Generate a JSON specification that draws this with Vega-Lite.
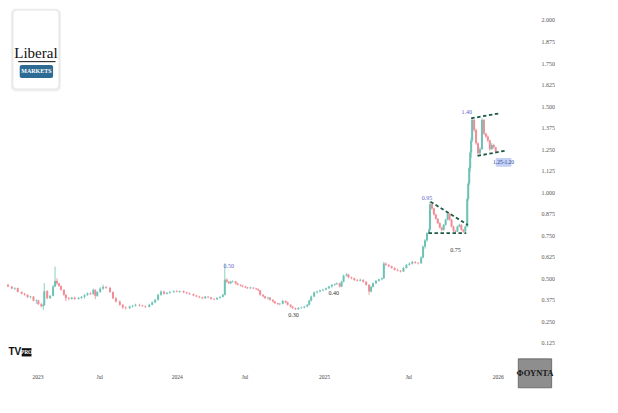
{
"$schema": "https://vega.github.io/schema/vega-lite/v6.json",
"width": 538, "height": 370,
"autosize": {"type": "pad"},
"padding": 0,
"background": "white",
"config": {"view": {"stroke": null}, "axis": {"labelFont": "Liberation Sans Narrow"}},
"resolve": {"axis": {"x": "independent", "y": "independent"}},
"datasets": {
"candles": [
{"b":6,"d":"2022-10-07","o":0.462,"h":0.467,"l":0.448,"c":0.452},
{"b":14,"d":"2022-10-18","o":0.452,"h":0.455,"l":0.436,"c":0.440},
{"b":20,"d":"2022-10-27","o":0.440,"h":0.447,"l":0.432,"c":0.444},
{"b":26,"d":"2022-11-05","o":0.444,"h":0.446,"l":0.418,"c":0.421},
{"b":34,"d":"2022-11-16","o":0.421,"h":0.424,"l":0.406,"c":0.410},
{"b":40,"d":"2022-11-25","o":0.410,"h":0.416,"l":0.398,"c":0.404},
{"b":46,"d":"2022-12-03","o":0.404,"h":0.408,"l":0.386,"c":0.390},
{"b":52,"d":"2022-12-12","o":0.390,"h":0.398,"l":0.383,"c":0.394},
{"b":58,"d":"2022-12-21","o":0.394,"h":0.396,"l":0.366,"c":0.370},
{"b":64,"d":"2022-12-29","o":0.370,"h":0.378,"l":0.352,"c":0.372},
{"b":68,"d":"2023-01-04","o":0.372,"h":0.375,"l":0.345,"c":0.350},
{"b":74,"d":"2023-01-12","o":0.350,"h":0.356,"l":0.330,"c":0.338},
{"b":78,"d":"2023-01-18","o":0.338,"h":0.352,"l":0.317,"c":0.345},
{"b":80,"d":"2023-01-21","o":0.345,"h":0.471,"l":0.340,"c":0.425},
{"b":86,"d":"2023-01-30","o":0.425,"h":0.432,"l":0.378,"c":0.384},
{"b":92,"d":"2023-02-07","o":0.384,"h":0.402,"l":0.380,"c":0.398},
{"b":98,"d":"2023-02-16","o":0.398,"h":0.462,"l":0.395,"c":0.452},
{"b":102,"d":"2023-02-22","o":0.452,"h":0.568,"l":0.448,"c":0.485},
{"b":106,"d":"2023-02-27","o":0.485,"h":0.500,"l":0.462,"c":0.470},
{"b":110,"d":"2023-03-05","o":0.470,"h":0.474,"l":0.450,"c":0.455},
{"b":114,"d":"2023-03-11","o":0.455,"h":0.458,"l":0.428,"c":0.433},
{"b":120,"d":"2023-03-20","o":0.433,"h":0.436,"l":0.398,"c":0.404},
{"b":124,"d":"2023-03-25","o":0.404,"h":0.408,"l":0.366,"c":0.384},
{"b":130,"d":"2023-04-03","o":0.384,"h":0.392,"l":0.372,"c":0.380},
{"b":136,"d":"2023-04-12","o":0.380,"h":0.392,"l":0.376,"c":0.388},
{"b":142,"d":"2023-04-20","o":0.388,"h":0.394,"l":0.374,"c":0.380},
{"b":150,"d":"2023-05-02","o":0.380,"h":0.392,"l":0.376,"c":0.386},
{"b":156,"d":"2023-05-10","o":0.386,"h":0.396,"l":0.380,"c":0.392},
{"b":162,"d":"2023-05-19","o":0.392,"h":0.408,"l":0.382,"c":0.402},
{"b":168,"d":"2023-05-28","o":0.402,"h":0.418,"l":0.398,"c":0.412},
{"b":174,"d":"2023-06-05","o":0.412,"h":0.420,"l":0.402,"c":0.408},
{"b":180,"d":"2023-06-14","o":0.408,"h":0.440,"l":0.404,"c":0.433},
{"b":184,"d":"2023-06-20","o":0.433,"h":0.436,"l":0.378,"c":0.398},
{"b":188,"d":"2023-06-25","o":0.398,"h":0.425,"l":0.392,"c":0.420},
{"b":194,"d":"2023-07-03","o":0.420,"h":0.448,"l":0.415,"c":0.440},
{"b":200,"d":"2023-07-10","o":0.440,"h":0.462,"l":0.432,"c":0.450},
{"b":206,"d":"2023-07-17","o":0.450,"h":0.455,"l":0.438,"c":0.445},
{"b":214,"d":"2023-07-27","o":0.445,"h":0.448,"l":0.415,"c":0.420},
{"b":220,"d":"2023-08-03","o":0.420,"h":0.424,"l":0.378,"c":0.384},
{"b":226,"d":"2023-08-10","o":0.384,"h":0.392,"l":0.358,"c":0.365},
{"b":234,"d":"2023-08-19","o":0.365,"h":0.372,"l":0.340,"c":0.346},
{"b":240,"d":"2023-08-26","o":0.346,"h":0.352,"l":0.322,"c":0.330},
{"b":246,"d":"2023-09-02","o":0.330,"h":0.338,"l":0.318,"c":0.326},
{"b":254,"d":"2023-09-11","o":0.326,"h":0.342,"l":0.322,"c":0.336},
{"b":260,"d":"2023-09-18","o":0.336,"h":0.346,"l":0.330,"c":0.340},
{"b":266,"d":"2023-09-25","o":0.340,"h":0.352,"l":0.336,"c":0.346},
{"b":274,"d":"2023-10-04","o":0.346,"h":0.352,"l":0.336,"c":0.342},
{"b":280,"d":"2023-10-11","o":0.342,"h":0.346,"l":0.334,"c":0.338},
{"b":286,"d":"2023-10-18","o":0.338,"h":0.342,"l":0.328,"c":0.334},
{"b":294,"d":"2023-10-28","o":0.334,"h":0.352,"l":0.330,"c":0.346},
{"b":300,"d":"2023-11-04","o":0.346,"h":0.366,"l":0.342,"c":0.360},
{"b":306,"d":"2023-11-11","o":0.360,"h":0.380,"l":0.355,"c":0.375},
{"b":312,"d":"2023-11-18","o":0.375,"h":0.410,"l":0.370,"c":0.404},
{"b":318,"d":"2023-11-25","o":0.404,"h":0.430,"l":0.398,"c":0.423},
{"b":324,"d":"2023-12-02","o":0.423,"h":0.428,"l":0.405,"c":0.410},
{"b":330,"d":"2023-12-09","o":0.410,"h":0.420,"l":0.406,"c":0.416},
{"b":336,"d":"2023-12-16","o":0.416,"h":0.426,"l":0.410,"c":0.421},
{"b":344,"d":"2023-12-25","o":0.421,"h":0.430,"l":0.414,"c":0.425},
{"b":350,"d":"2024-01-01","o":0.425,"h":0.432,"l":0.418,"c":0.422},
{"b":356,"d":"2024-01-09","o":0.422,"h":0.430,"l":0.416,"c":0.426},
{"b":364,"d":"2024-01-19","o":0.426,"h":0.430,"l":0.414,"c":0.418},
{"b":370,"d":"2024-01-27","o":0.418,"h":0.422,"l":0.408,"c":0.413},
{"b":376,"d":"2024-02-04","o":0.413,"h":0.418,"l":0.404,"c":0.408},
{"b":384,"d":"2024-02-15","o":0.408,"h":0.412,"l":0.396,"c":0.400},
{"b":390,"d":"2024-02-23","o":0.400,"h":0.404,"l":0.390,"c":0.394},
{"b":396,"d":"2024-03-02","o":0.394,"h":0.398,"l":0.384,"c":0.389},
{"b":402,"d":"2024-03-10","o":0.389,"h":0.392,"l":0.378,"c":0.384},
{"b":408,"d":"2024-03-17","o":0.384,"h":0.398,"l":0.380,"c":0.393},
{"b":414,"d":"2024-03-25","o":0.393,"h":0.396,"l":0.384,"c":0.389},
{"b":420,"d":"2024-04-02","o":0.389,"h":0.392,"l":0.376,"c":0.380},
{"b":426,"d":"2024-04-10","o":0.380,"h":0.386,"l":0.372,"c":0.378},
{"b":432,"d":"2024-04-18","o":0.378,"h":0.390,"l":0.374,"c":0.386},
{"b":438,"d":"2024-04-26","o":0.386,"h":0.396,"l":0.382,"c":0.392},
{"b":444,"d":"2024-05-04","o":0.392,"h":0.410,"l":0.388,"c":0.404},
{"b":448,"d":"2024-05-09","o":0.404,"h":0.587,"l":0.400,"c":0.492},
{"b":452,"d":"2024-05-15","o":0.492,"h":0.500,"l":0.474,"c":0.480},
{"b":456,"d":"2024-05-20","o":0.480,"h":0.484,"l":0.466,"c":0.471},
{"b":460,"d":"2024-05-25","o":0.471,"h":0.486,"l":0.468,"c":0.480},
{"b":464,"d":"2024-05-30","o":0.480,"h":0.488,"l":0.474,"c":0.482},
{"b":470,"d":"2024-06-07","o":0.482,"h":0.485,"l":0.464,"c":0.470},
{"b":474,"d":"2024-06-13","o":0.470,"h":0.474,"l":0.458,"c":0.462},
{"b":480,"d":"2024-06-20","o":0.462,"h":0.466,"l":0.452,"c":0.458},
{"b":484,"d":"2024-06-26","o":0.458,"h":0.462,"l":0.447,"c":0.452},
{"b":490,"d":"2024-07-03","o":0.452,"h":0.456,"l":0.442,"c":0.447},
{"b":494,"d":"2024-07-08","o":0.447,"h":0.450,"l":0.438,"c":0.442},
{"b":500,"d":"2024-07-15","o":0.442,"h":0.452,"l":0.438,"c":0.446},
{"b":506,"d":"2024-07-21","o":0.446,"h":0.448,"l":0.436,"c":0.441},
{"b":512,"d":"2024-07-28","o":0.441,"h":0.444,"l":0.432,"c":0.436},
{"b":516,"d":"2024-08-02","o":0.436,"h":0.442,"l":0.426,"c":0.430},
{"b":520,"d":"2024-08-06","o":0.430,"h":0.432,"l":0.398,"c":0.404},
{"b":526,"d":"2024-08-13","o":0.404,"h":0.408,"l":0.390,"c":0.395},
{"b":530,"d":"2024-08-18","o":0.395,"h":0.398,"l":0.380,"c":0.384},
{"b":536,"d":"2024-08-25","o":0.384,"h":0.392,"l":0.376,"c":0.388},
{"b":540,"d":"2024-08-29","o":0.388,"h":0.390,"l":0.370,"c":0.375},
{"b":546,"d":"2024-09-05","o":0.375,"h":0.378,"l":0.360,"c":0.365},
{"b":550,"d":"2024-09-09","o":0.365,"h":0.368,"l":0.350,"c":0.355},
{"b":556,"d":"2024-09-16","o":0.355,"h":0.358,"l":0.344,"c":0.350},
{"b":560,"d":"2024-09-21","o":0.350,"h":0.356,"l":0.342,"c":0.352},
{"b":566,"d":"2024-09-28","o":0.352,"h":0.376,"l":0.348,"c":0.368},
{"b":572,"d":"2024-10-04","o":0.368,"h":0.372,"l":0.355,"c":0.360},
{"b":576,"d":"2024-10-09","o":0.360,"h":0.364,"l":0.342,"c":0.346},
{"b":582,"d":"2024-10-16","o":0.346,"h":0.350,"l":0.330,"c":0.335},
{"b":586,"d":"2024-10-20","o":0.335,"h":0.340,"l":0.322,"c":0.326},
{"b":592,"d":"2024-10-27","o":0.326,"h":0.330,"l":0.316,"c":0.320},
{"b":598,"d":"2024-11-03","o":0.320,"h":0.332,"l":0.318,"c":0.328},
{"b":604,"d":"2024-11-10","o":0.328,"h":0.336,"l":0.322,"c":0.330},
{"b":610,"d":"2024-11-17","o":0.330,"h":0.340,"l":0.326,"c":0.336},
{"b":616,"d":"2024-11-23","o":0.336,"h":0.350,"l":0.332,"c":0.346},
{"b":620,"d":"2024-11-28","o":0.346,"h":0.376,"l":0.342,"c":0.370},
{"b":624,"d":"2024-12-02","o":0.370,"h":0.400,"l":0.366,"c":0.394},
{"b":630,"d":"2024-12-09","o":0.394,"h":0.424,"l":0.390,"c":0.418},
{"b":636,"d":"2024-12-16","o":0.418,"h":0.428,"l":0.412,"c":0.423},
{"b":642,"d":"2024-12-23","o":0.423,"h":0.434,"l":0.418,"c":0.430},
{"b":648,"d":"2024-12-30","o":0.430,"h":0.438,"l":0.424,"c":0.434},
{"b":654,"d":"2025-01-05","o":0.434,"h":0.446,"l":0.430,"c":0.442},
{"b":660,"d":"2025-01-12","o":0.442,"h":0.456,"l":0.438,"c":0.452},
{"b":666,"d":"2025-01-18","o":0.452,"h":0.466,"l":0.446,"c":0.462},
{"b":672,"d":"2025-01-24","o":0.462,"h":0.470,"l":0.456,"c":0.466},
{"b":676,"d":"2025-01-28","o":0.466,"h":0.476,"l":0.462,"c":0.471},
{"b":682,"d":"2025-02-04","o":0.471,"h":0.474,"l":0.446,"c":0.452},
{"b":686,"d":"2025-02-08","o":0.452,"h":0.486,"l":0.448,"c":0.480},
{"b":690,"d":"2025-02-12","o":0.480,"h":0.522,"l":0.476,"c":0.515},
{"b":696,"d":"2025-02-18","o":0.515,"h":0.530,"l":0.510,"c":0.522},
{"b":700,"d":"2025-02-23","o":0.522,"h":0.526,"l":0.500,"c":0.505},
{"b":706,"d":"2025-03-01","o":0.505,"h":0.510,"l":0.494,"c":0.500},
{"b":712,"d":"2025-03-07","o":0.500,"h":0.504,"l":0.484,"c":0.490},
{"b":718,"d":"2025-03-14","o":0.490,"h":0.496,"l":0.480,"c":0.486},
{"b":724,"d":"2025-03-20","o":0.486,"h":0.498,"l":0.482,"c":0.491},
{"b":730,"d":"2025-03-26","o":0.491,"h":0.494,"l":0.474,"c":0.480},
{"b":736,"d":"2025-04-01","o":0.480,"h":0.484,"l":0.456,"c":0.462},
{"b":742,"d":"2025-04-08","o":0.462,"h":0.466,"l":0.404,"c":0.423},
{"b":746,"d":"2025-04-12","o":0.423,"h":0.456,"l":0.418,"c":0.450},
{"b":750,"d":"2025-04-16","o":0.450,"h":0.476,"l":0.446,"c":0.471},
{"b":756,"d":"2025-04-23","o":0.471,"h":0.490,"l":0.466,"c":0.485},
{"b":762,"d":"2025-04-29","o":0.485,"h":0.498,"l":0.480,"c":0.494},
{"b":768,"d":"2025-05-05","o":0.494,"h":0.504,"l":0.488,"c":0.500},
{"b":772,"d":"2025-05-09","o":0.500,"h":0.594,"l":0.496,"c":0.585},
{"b":776,"d":"2025-05-14","o":0.585,"h":0.592,"l":0.572,"c":0.578},
{"b":782,"d":"2025-05-20","o":0.578,"h":0.582,"l":0.564,"c":0.570},
{"b":788,"d":"2025-05-26","o":0.570,"h":0.574,"l":0.555,"c":0.560},
{"b":794,"d":"2025-06-02","o":0.560,"h":0.564,"l":0.544,"c":0.549},
{"b":800,"d":"2025-06-08","o":0.549,"h":0.556,"l":0.540,"c":0.545},
{"b":806,"d":"2025-06-14","o":0.545,"h":0.548,"l":0.534,"c":0.539},
{"b":812,"d":"2025-06-21","o":0.539,"h":0.566,"l":0.536,"c":0.560},
{"b":818,"d":"2025-06-27","o":0.560,"h":0.584,"l":0.556,"c":0.578},
{"b":824,"d":"2025-07-03","o":0.578,"h":0.592,"l":0.574,"c":0.585},
{"b":830,"d":"2025-07-09","o":0.585,"h":0.602,"l":0.580,"c":0.595},
{"b":836,"d":"2025-07-15","o":0.595,"h":0.600,"l":0.584,"c":0.590},
{"b":842,"d":"2025-07-21","o":0.590,"h":0.594,"l":0.580,"c":0.587},
{"b":848,"d":"2025-07-27","o":0.587,"h":0.628,"l":0.584,"c":0.620},
{"b":852,"d":"2025-07-31","o":0.620,"h":0.690,"l":0.616,"c":0.684},
{"b":856,"d":"2025-08-04","o":0.684,"h":0.728,"l":0.672,"c":0.720},
{"b":860,"d":"2025-08-08","o":0.720,"h":0.768,"l":0.712,"c":0.762},
{"b":864,"d":"2025-08-12","o":0.762,"h":0.790,"l":0.755,"c":0.781},
{"b":866,"d":"2025-08-14","o":0.781,"h":0.945,"l":0.776,"c":0.930},
{"b":870,"d":"2025-08-18","o":0.930,"h":0.936,"l":0.898,"c":0.905},
{"b":874,"d":"2025-08-23","o":0.905,"h":0.910,"l":0.864,"c":0.870},
{"b":878,"d":"2025-08-27","o":0.870,"h":0.876,"l":0.840,"c":0.845},
{"b":882,"d":"2025-08-31","o":0.845,"h":0.850,"l":0.815,"c":0.820},
{"b":886,"d":"2025-09-04","o":0.820,"h":0.826,"l":0.790,"c":0.795},
{"b":890,"d":"2025-09-08","o":0.795,"h":0.800,"l":0.772,"c":0.781},
{"b":894,"d":"2025-09-12","o":0.781,"h":0.816,"l":0.776,"c":0.810},
{"b":898,"d":"2025-09-16","o":0.810,"h":0.846,"l":0.805,"c":0.840},
{"b":902,"d":"2025-09-20","o":0.840,"h":0.882,"l":0.836,"c":0.875},
{"b":906,"d":"2025-09-24","o":0.875,"h":0.880,"l":0.834,"c":0.840},
{"b":910,"d":"2025-09-28","o":0.840,"h":0.845,"l":0.795,"c":0.800},
{"b":914,"d":"2025-10-02","o":0.800,"h":0.806,"l":0.768,"c":0.775},
{"b":918,"d":"2025-10-06","o":0.775,"h":0.780,"l":0.764,"c":0.771},
{"b":922,"d":"2025-10-10","o":0.771,"h":0.806,"l":0.768,"c":0.800},
{"b":926,"d":"2025-10-14","o":0.800,"h":0.816,"l":0.796,"c":0.810},
{"b":930,"d":"2025-10-18","o":0.810,"h":0.814,"l":0.776,"c":0.781},
{"b":934,"d":"2025-10-22","o":0.781,"h":0.786,"l":0.764,"c":0.771},
{"b":938,"d":"2025-10-26","o":0.771,"h":0.806,"l":0.766,"c":0.800},
{"b":942,"d":"2025-10-30","o":0.800,"h":0.970,"l":0.796,"c":0.960},
{"b":944,"d":"2025-11-01","o":0.960,"h":1.060,"l":0.950,"c":1.050},
{"b":946,"d":"2025-11-03","o":1.050,"h":1.150,"l":1.040,"c":1.140},
{"b":948,"d":"2025-11-05","o":1.140,"h":1.240,"l":1.120,"c":1.230},
{"b":950,"d":"2025-11-07","o":1.230,"h":1.320,"l":1.200,"c":1.300},
{"b":952,"d":"2025-11-09","o":1.300,"h":1.437,"l":1.290,"c":1.420},
{"b":956,"d":"2025-11-13","o":1.420,"h":1.425,"l":1.350,"c":1.361},
{"b":960,"d":"2025-11-18","o":1.361,"h":1.370,"l":1.275,"c":1.284},
{"b":964,"d":"2025-11-22","o":1.284,"h":1.290,"l":1.215,"c":1.226},
{"b":968,"d":"2025-11-26","o":1.226,"h":1.262,"l":1.218,"c":1.250},
{"b":972,"d":"2025-11-30","o":1.250,"h":1.432,"l":1.245,"c":1.420},
{"b":976,"d":"2025-12-04","o":1.420,"h":1.425,"l":1.332,"c":1.340},
{"b":980,"d":"2025-12-08","o":1.340,"h":1.345,"l":1.315,"c":1.323},
{"b":984,"d":"2025-12-12","o":1.323,"h":1.330,"l":1.290,"c":1.300},
{"b":988,"d":"2025-12-16","o":1.300,"h":1.305,"l":1.240,"c":1.250},
{"b":992,"d":"2025-12-20","o":1.250,"h":1.285,"l":1.244,"c":1.274},
{"b":996,"d":"2025-12-24","o":1.274,"h":1.280,"l":1.252,"c":1.260},
{"b":1000,"d":"2025-12-28","o":1.260,"h":1.265,"l":1.228,"c":1.235}
],
"lines": [
{"seg":"tri_top","b":867,"p":0.945},
{"seg":"tri_top","b":943,"p":0.810},
{"seg":"tri_base","b":863,"p":0.762},
{"seg":"tri_base","b":940,"p":0.762},
{"seg":"ch_top","b":950,"p":1.429},
{"seg":"ch_top","b":1010,"p":1.459},
{"seg":"ch_bot","b":963,"p":1.211},
{"seg":"ch_bot","b":1020,"p":1.241}
],
"labels": [
{"b":456,"p":0.572,"t":"0.50","k":"peak"},
{"b":588,"p":0.285,"t":"0.30","k":"level"},
{"b":670,"p":0.412,"t":"0.40","k":"level"},
{"b":860,"p":0.967,"t":"0.95","k":"peak"},
{"b":918,"p":0.665,"t":"0.75","k":"level"},
{"b":941,"p":1.466,"t":"1.40","k":"peak"}
]
},
"layer": [
{
"data": {"name":"candles"},
"mark": {"type":"rule","strokeWidth":0.8},
"encoding": {
"x": {"field":"b","type":"quantitative","scale":{"domain":[0,1076],"nice":false,"zero":false},
"axis":{"values":[66,192,350,488,650,822,1004],"labelExpr":"datum.value==66 ? '2023' : datum.value==350 ? '2024' : datum.value==650 ? '2025' : datum.value==1004 ? '2026' : 'Jul'","ticks":false,"domain":false,"grid":false,"labelPadding":4,"labelFontSize":5.5,"labelColor":"#444","title":null,"labelOverlap":false,"labelFlush":false}},
"y": {"field":"l","type":"quantitative","scale":{"domain":[-0.0327,2.1161],"nice":false,"zero":false},
"axis":{"orient":"right","values":[0.125,0.25,0.375,0.5,0.625,0.75,0.875,1.0,1.125,1.25,1.375,1.5,1.625,1.75,1.875,2.0],"format":".3f","ticks":false,"domain":false,"grid":false,"labelPadding":3,"labelFontSize":6,"labelColor":"#555","title":null,"labelOverlap":false}},
"y2": {"field":"h"},
"color": {"condition":{"test":"datum.c >= datum.o","value":"#6cc2b5"},"value":"#f08c94"}
}
},
{
"data": {"name":"candles"},
"mark": {"type":"bar","width":2},
"encoding": {
"x": {"field":"b","type":"quantitative","axis":null,"scale":{"domain":[0,1076],"nice":false,"zero":false}},
"y": {"field":"o","type":"quantitative","axis":null,"scale":{"domain":[-0.0327,2.1161],"nice":false,"zero":false}},
"y2": {"field":"c"},
"color": {"condition":{"test":"datum.c >= datum.o","value":"#6cc2b5"},"value":"#f08c94"}
}
},
{
"data": {"values": [{"b":12,"b2":114,"p":2.066,"p2":1.585}]},
"mark": {"type":"rect","fill":"#efefef","cornerRadius":5},
"encoding": {
"x": {"field":"b","type":"quantitative","axis":null,"scale":{"domain":[0,1076],"nice":false,"zero":false}},
"x2": {"field":"b2"},
"y": {"field":"p","type":"quantitative","axis":null,"scale":{"domain":[-0.0327,2.1161],"nice":false,"zero":false}},
"y2": {"field":"p2"}
}
},
{
"data": {"values": [{"b":16,"b2":110,"p":2.058,"p2":1.599}]},
"mark": {"type":"rect","fill":"white","stroke":"#e4e4e4","strokeWidth":1,"cornerRadius":4},
"encoding": {
"x": {"field":"b","type":"quantitative","axis":null,"scale":{"domain":[0,1076],"nice":false,"zero":false}},
"x2": {"field":"b2"},
"y": {"field":"p","type":"quantitative","axis":null,"scale":{"domain":[-0.0327,2.1161],"nice":false,"zero":false}},
"y2": {"field":"p2"}
}
},
{
"data": {"values": [{"b":30,"b2":98,"p":1.739,"p2":1.663}]},
"mark": {"type":"rect","fill":"#2e6b94","cornerRadius":2},
"encoding": {
"x": {"field":"b","type":"quantitative","axis":null,"scale":{"domain":[0,1076],"nice":false,"zero":false}},
"x2": {"field":"b2"},
"y": {"field":"p","type":"quantitative","axis":null,"scale":{"domain":[-0.0327,2.1161],"nice":false,"zero":false}},
"y2": {"field":"p2"}
}
},
{
"data": {"values": [{"b":27,"p":1.758},{"b":103,"p":1.758}]},
"mark": {"type":"line","color":"#111","strokeWidth":1},
"encoding": {
"x": {"field":"b","type":"quantitative","axis":null,"scale":{"domain":[0,1076],"nice":false,"zero":false}},
"y": {"field":"p","type":"quantitative","axis":null,"scale":{"domain":[-0.0327,2.1161],"nice":false,"zero":false}}
}
},
{
"data": {"values": [{"b":63,"p":1.779,"t":"Liberal"}]},
"mark": {"type":"text","font":"Liberation Serif","fontSize":15,"color":"#111","baseline":"alphabetic","align":"center"},
"encoding": {
"x": {"field":"b","type":"quantitative","axis":null,"scale":{"domain":[0,1076],"nice":false,"zero":false}},
"y": {"field":"p","type":"quantitative","axis":null,"scale":{"domain":[-0.0327,2.1161],"nice":false,"zero":false}},
"text": {"field":"t"}
}
},
{
"data": {"values": [{"b":64,"p":1.701,"t":"MARKETS"}]},
"mark": {"type":"text","font":"Liberation Sans Narrow","fontSize":6,"fontWeight":"bold","color":"white","baseline":"middle","align":"center"},
"encoding": {
"x": {"field":"b","type":"quantitative","axis":null,"scale":{"domain":[0,1076],"nice":false,"zero":false}},
"y": {"field":"p","type":"quantitative","axis":null,"scale":{"domain":[-0.0327,2.1161],"nice":false,"zero":false}},
"text": {"field":"t"}
}
},
{
"data": {"values": [{"b":34,"b2":54,"p":0.094,"p2":0.046}]},
"mark": {"type":"rect","fill":"#111"},
"encoding": {
"x": {"field":"b","type":"quantitative","axis":null,"scale":{"domain":[0,1076],"nice":false,"zero":false}},
"x2": {"field":"b2"},
"y": {"field":"p","type":"quantitative","axis":null,"scale":{"domain":[-0.0327,2.1161],"nice":false,"zero":false}},
"y2": {"field":"p2"}
}
},
{
"data": {"values": [{"b":20,"p":0.070,"t":"TV"}]},
"mark": {"type":"text","font":"Liberation Sans","fontSize":10,"fontWeight":"bold","color":"#111","baseline":"middle","align":"center"},
"encoding": {
"x": {"field":"b","type":"quantitative","axis":null,"scale":{"domain":[0,1076],"nice":false,"zero":false}},
"y": {"field":"p","type":"quantitative","axis":null,"scale":{"domain":[-0.0327,2.1161],"nice":false,"zero":false}},
"text": {"field":"t"}
}
},
{
"data": {"values": [{"b":44,"p":0.070,"t":"PRO"}]},
"mark": {"type":"text","font":"Liberation Sans Narrow","fontSize":5.5,"fontWeight":"bold","color":"white","baseline":"middle","align":"center"},
"encoding": {
"x": {"field":"b","type":"quantitative","axis":null,"scale":{"domain":[0,1076],"nice":false,"zero":false}},
"y": {"field":"p","type":"quantitative","axis":null,"scale":{"domain":[-0.0327,2.1161],"nice":false,"zero":false}},
"text": {"field":"t"}
}
},
{
"data": {"name":"lines"},
"mark": {"type":"line","color":"#1f5a45","strokeWidth":1.8,"strokeDash":[3.5,2.5]},
"encoding": {
"x": {"field":"b","type":"quantitative","axis":null,"scale":{"domain":[0,1076],"nice":false,"zero":false}},
"y": {"field":"p","type":"quantitative","axis":null,"scale":{"domain":[-0.0327,2.1161],"nice":false,"zero":false}},
"detail": {"field":"seg"}
}
},
{
"data": {"name":"labels"},
"mark": {"type":"text","font":"Liberation Sans Narrow","fontSize":6,"baseline":"middle","align":"center"},
"encoding": {
"x": {"field":"b","type":"quantitative","axis":null,"scale":{"domain":[0,1076],"nice":false,"zero":false}},
"y": {"field":"p","type":"quantitative","axis":null,"scale":{"domain":[-0.0327,2.1161],"nice":false,"zero":false}},
"text": {"field":"t"},
"color": {"field":"k","type":"nominal","legend":null,"scale":{"domain":["peak","level"],"range":["#5a67c8","#333333"]}}
}
},
{
"data": {"values": [{"b":1000,"b2":1032,"p":1.199,"p2":1.147}]},
"mark": {"type":"rect","fill":"#c3d0f4","cornerRadius":1},
"encoding": {
"x": {"field":"b","type":"quantitative","axis":null,"scale":{"domain":[0,1076],"nice":false,"zero":false}},
"x2": {"field":"b2"},
"y": {"field":"p","type":"quantitative","axis":null,"scale":{"domain":[-0.0327,2.1161],"nice":false,"zero":false}},
"y2": {"field":"p2"}
}
},
{
"data": {"values": [{"b":1016,"p":1.173,"t":"1.25-1.20"}]},
"mark": {"type":"text","font":"Liberation Sans Narrow","fontSize":5.5,"color":"#2a3f9a","baseline":"middle","align":"center"},
"encoding": {
"x": {"field":"b","type":"quantitative","axis":null,"scale":{"domain":[0,1076],"nice":false,"zero":false}},
"y": {"field":"p","type":"quantitative","axis":null,"scale":{"domain":[-0.0327,2.1161],"nice":false,"zero":false}},
"text": {"field":"t"}
}
},
{
"data": {"values": [{"b":1046,"b2":1114,"p":0.032,"p2":-0.136}]},
"mark": {"type":"rect","fill":"#8e8e8e","stroke":"#5c5c5c","strokeWidth":0.8},
"encoding": {
"x": {"field":"b","type":"quantitative","axis":null,"scale":{"domain":[0,1076],"nice":false,"zero":false}},
"x2": {"field":"b2"},
"y": {"field":"p","type":"quantitative","axis":null,"scale":{"domain":[-0.0327,2.1161],"nice":false,"zero":false}},
"y2": {"field":"p2"}
}
},
{
"data": {"values": [{"b":1080,"p":-0.049,"t":"ΦΟΥΝΤΑ"}]},
"mark": {"type":"text","font":"Liberation Serif","fontSize":8.5,"fontWeight":"bold","color":"#1a1a1a","baseline":"middle","align":"center"},
"encoding": {
"x": {"field":"b","type":"quantitative","axis":null,"scale":{"domain":[0,1076],"nice":false,"zero":false}},
"y": {"field":"p","type":"quantitative","axis":null,"scale":{"domain":[-0.0327,2.1161],"nice":false,"zero":false}},
"text": {"field":"t"}
}
}
]
}
